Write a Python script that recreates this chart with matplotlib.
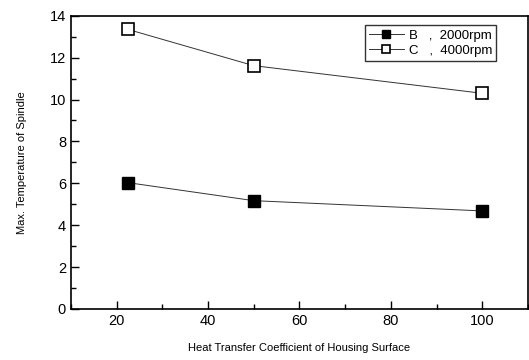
import matplotlib
matplotlib.use("Agg")
import matplotlib.pyplot as plt
from matplotlib.ticker import MultipleLocator

plt.rcParams["font.family"] = ["Liberation Sans", "DejaVu Sans"]

# ── data ──────────────────────────────────────────────────────────────────────
htc      = [22.5, 50, 100]
temp_b   = [6.03, 5.17, 4.68]     # B, 2000rpm
temp_c   = [13.35, 11.62, 10.30]  # C, 4000rpm

fig = plt.figure(figsize=(5.29, 3.6), dpi=100)
ax = fig.add_axes([0.134, 0.142, 0.864, 0.814])

ax.plot(htc, temp_b, "-", color="#333333", lw=0.7, marker="s", ms=8.5,
        mfc="black", mec="black", label="B   ,  2000rpm")
ax.plot(htc, temp_c, "-", color="#333333", lw=0.7, marker="s", ms=8.5,
        mfc="white", mec="black", mew=1.2, label="C   ,  4000rpm")

ax.set_xlim(10, 110)
ax.set_ylim(0, 14)
ax.xaxis.set_major_locator(MultipleLocator(20))
ax.xaxis.set_minor_locator(MultipleLocator(10))
ax.yaxis.set_major_locator(MultipleLocator(2))
ax.yaxis.set_minor_locator(MultipleLocator(1))
ax.tick_params(which="both", direction="in", top=False, right=False,
               labelsize=10.5, width=1)
ax.tick_params(which="major", length=6)
ax.tick_params(which="minor", length=3.5)
for s in ax.spines.values():
    s.set_linewidth(1.2)

ax.set_xlabel("Heat Transfer Coefficient of Housing Surface", fontsize=8,
              labelpad=11)
ax.set_ylabel("Max. Temperature of Spindle", fontsize=8, labelpad=16)

leg = ax.legend(loc="upper right", bbox_to_anchor=(0.945, 0.99), fontsize=9.5,
                frameon=True, fancybox=False, edgecolor="black",
                handlelength=2.6, handletextpad=0.4, borderpad=0.3,
                labelspacing=0.25, markerscale=0.75)
leg.get_frame().set_linewidth(1.0)

fig.savefig("out.png", dpi=100)
